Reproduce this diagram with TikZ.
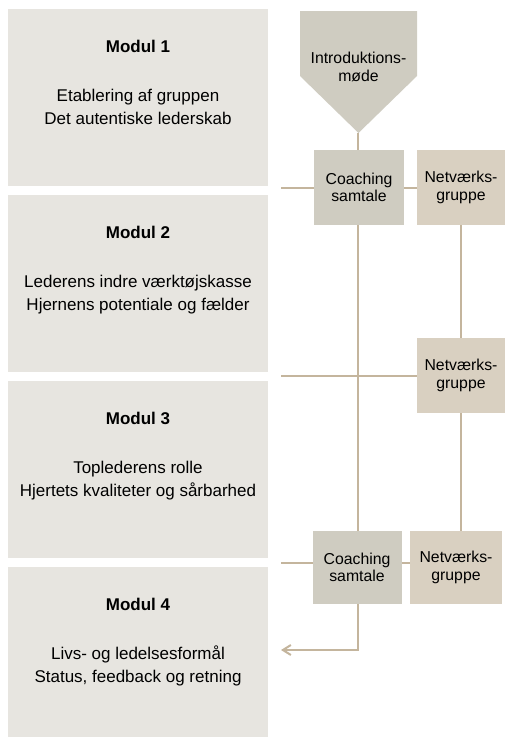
\documentclass[tikz,border=0pt]{standalone}
\usepackage{fontspec}
\setmainfont{Liberation Sans}
\usetikzlibrary{positioning, arrows.meta}
\definecolor{modulgray}{HTML}{E7E5E0}
\definecolor{coachgray}{HTML}{CFCCC1}
\definecolor{netbeige}{HTML}{D9D0C1}
\definecolor{linetan}{HTML}{C4B59D}
\tikzset{
  >={Straight Barb[length=8pt, width=10pt]},
  modul/.style={fill=modulgray, inner sep=0pt, outer sep=0pt, minimum width=260pt, minimum height=177pt},
  modtext/.style={anchor=north, inner sep=0pt, align=center, font=\fontsize{17}{23}\selectfont},
  coach/.style={fill=coachgray, inner sep=0pt, outer sep=0pt, minimum width=90pt, minimum height=75pt, align=center, font=\fontsize{15.8}{17.5}\selectfont},
  netv/.style={coach, fill=netbeige, minimum width=88pt},
  link/.style={draw=linetan, line width=2pt},
}

\begin{document}
\begin{tikzpicture}[x=1pt, y=-1pt, node distance=9pt]
  \useasboundingbox (0,0) rectangle (505,737);

  % moduler
  \node[modul] (m1) at (138,97.5) {};
  \node[modul, below=of m1] (m2) {};
  \node[modul, below=of m2] (m3) {};
  \node[modul, below=of m3] (m4) {};
  \node[modtext] (t1) at ([yshift=-30.6pt]m1.north) {\textbf{Modul 1}\\[26pt]Etablering af gruppen\\Det autentiske lederskab};
  \node[modtext] (t2) at ([yshift=-30.6pt]m2.north) {\textbf{Modul 2}\\[26pt]Lederens indre værktøjskasse\\Hjernens potentiale og fælder};
  \node[modtext] (t3) at ([yshift=-30.6pt]m3.north) {\textbf{Modul 3}\\[26pt]Toplederens rolle\\Hjertets kvaliteter og sårbarhed};
  \node[modtext] (t4) at ([yshift=-30.6pt]m4.north) {\textbf{Modul 4}\\[26pt]Livs- og ledelsesformål\\Status, feedback og retning};

  % introduktion
  \fill[coachgray] (300,11) -- (417,11) -- (417,76) -- (358.5,133) -- (300,76) -- cycle;
  \coordinate (tip) at (358,133);
  \node[anchor=north, inner sep=0pt, align=center, font=\fontsize{15.8}{18}\selectfont] (intro) at (358.5,51.5) {Introduktions-\\møde};

  % coaching og netværk
  \node[coach] (c1) at (359,187.5) {Coaching\\samtale};
  \node[netv] (n1) at (461,187.5) {Netværks-\\gruppe};
  \node[netv] (n2) at (461,375.5) {Netværks-\\gruppe};
  \node[coach, minimum width=89pt, minimum height=73pt] (c3) at (357,567.5) {Coaching\\samtale};
  \node[netv, minimum width=92pt, minimum height=73pt] (n3) at (456,567.5) {Netværks-\\gruppe};

  \coordinate (h1) at (281,187.5);
  \coordinate (h2) at (281,375.5);
  \coordinate (h3) at (281,563);
  \coordinate (a4) at (281,650);

  % forbindelser
  \draw[link] (tip) -- (tip |- c1.north);
  \draw[link] (tip |- c1.south) -- (tip |- c3.north);
  \draw[link, ->] (tip |- c3.south) |- (a4);
  \draw[link] (h1) -- (c1);
  \draw[link] (c1) -- (n1);
  \draw[link] (h2) -- (n2);
  \draw[link] (h3) -- (h3 -| c3.west);
  \draw[link] (c3.east |- h3) -- (n3.west |- h3);
  \draw[link] (n1) -- (n2);
  \draw[link] (n2) -- (n2 |- n3.north);
\end{tikzpicture}
\end{document}
